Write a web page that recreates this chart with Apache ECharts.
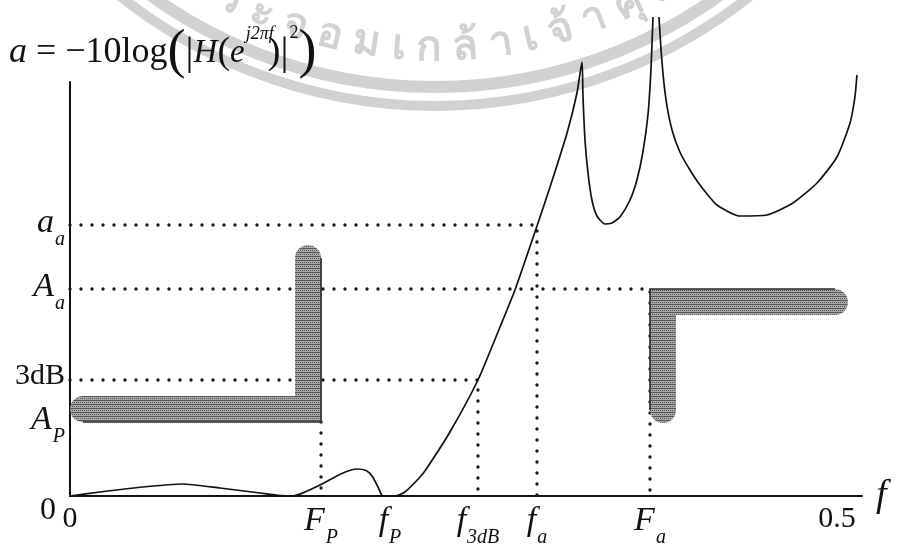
<!DOCTYPE html>
<html>
<head>
<meta charset="utf-8">
<script src="https://cdn.jsdelivr.net/npm/echarts@6/dist/echarts.min.js"></script>
<style>
  html, body { margin: 0; padding: 0; background: #ffffff; }
  #chart { width: 899px; height: 553px; }
</style>
</head>
<body>
<div id="chart"></div>
<script>
// ---- Specification points (normalised frequency f, attenuation a) ----
const F_P = 0.1595, f_P = 0.2033, f_3dB = 0.2592, f_a = 0.2967, F_a = 0.3685, F_HALF = 0.5, F_END = 0.5032;
const a_P = 1.5, A_P = 7.4, A_3dB = 11.6, A_a = 20.7, a_a = 27.1, A_TOP = 41.4;

// Axis ticks and their labels
const fTicks = [0, F_P, f_P, f_3dB, f_a, F_a, F_HALF];
const fTickLabels = ['{n|0}', '{M|F}{s|P}', '{M|f}{s|P}', '{M|f}{s|3dB}', '{M|f}{s|a}', '{M|F}{s|a}', '{nr|0.5}'];
const aTicks = [0, a_P, A_P, A_3dB, A_a, a_a];
const aTickLabels = ['{z|0}', '{M|a}{s|P}', '{M|A}{s|P}', '{n|3dB}', '{M|A}{s|a}', '{M|a}{s|a}'];

// Attenuation of the designed filter (null = infinite attenuation, transmission zero)
const curveF = [0, 0.0191, 0.0464, 0.0712, 0.0953, 0.1207, 0.1334, 0.1417, 0.1493, 0.1601,
  0.1734, 0.1823, 0.1881, 0.1919, 0.1957, 0.1982, 0.2001, 0.2065, 0.2128, 0.2224,
  0.2268, 0.2414, 0.2592, 0.2732, 0.2827, 0.2967, 0.3050, 0.3158, 0.3221, 0.3253,
  0.3259, 0.3272, 0.3291, 0.3316, 0.3348, 0.3399, 0.3443, 0.3494, 0.3558, 0.3602,
  0.3640, 0.3672, 0.3691, 0.3704, 0.3723, 0.3742, 0.3761, 0.3787, 0.3825, 0.3875,
  0.3939, 0.4003, 0.4111, 0.4257, 0.4428, 0.4593, 0.4746, 0.4873, 0.4956, 0.4987, 0.5000];
const curveA = [0, 0.4, 0.9, 1.2, 0.8, 0.3, 0.05, 0, 0.4, 1.2,
  2.3, 2.7, 2.55, 2.0, 0.9, 0.05, 0, 0, 0.4, 1.9,
  2.8, 6.4, 11.6, 16.9, 20.6, 27.0, 30.9, 36.3, 40.3, 43.4,
  40.1, 35.6, 32.3, 29.6, 28.0, 27.2, 27.3, 27.9, 29.6, 31.6,
  34.4, 38.1, 42.6, 47.9, null, 47.9, 43.4, 39.6, 36.6, 34.4,
  32.6, 31.1, 29.1, 28.0, 28.1, 29.3, 31.3, 33.9, 37.3, 39.9, 42.1];

// Tolerance masks: pass band (max attenuation) and stop band (min attenuation)
const passMaskF = [0, F_P, F_P];
const passMaskA = [A_P, A_P, 25.1];
const stopMaskF = [F_a, F_a, 0.4943];
const stopMaskA = [7.3, A_a, A_a];

// Dotted construction lines
const guideF = [[0, f_a, f_a], [0, F_a, F_a], [0, f_3dB, f_3dB], [F_P, F_P]];
const guideA = [[a_a, a_a, 0], [A_a, A_a, 0], [A_3dB, A_3dB, 0], [A_P, 0]];

const SERIF = '"Liberation Serif", "Times New Roman", serif';
const INK = '#111111';
const BAND = 26;

// Screen-tone texture for the tolerance masks
function screenTone() {
  const c = document.createElement('canvas');
  c.width = 4; c.height = 4;
  const g = c.getContext('2d');
  g.fillStyle = '#a9a9a9';
  g.fillRect(0, 0, 4, 4);
  g.fillStyle = '#555555';
  g.fillRect(0, 0, 4, 1);
  g.fillRect(0, 2, 1, 1);
  g.fillRect(2, 2, 1, 1);
  return { image: c, repeat: 'repeat' };
}
const MASK_FILL = screenTone();

const rich = {
  M: { fontFamily: SERIF, fontStyle: 'italic', fontSize: 34, lineHeight: 38, verticalAlign: 'top', color: INK },
  s: { fontFamily: SERIF, fontStyle: 'italic', fontSize: 20, lineHeight: 14, padding: [24, 0, 0, 1], verticalAlign: 'top', color: INK },
  n: { fontFamily: SERIF, fontSize: 30, lineHeight: 38, verticalAlign: 'top', color: INK },
  nr: { fontFamily: SERIF, fontSize: 30, lineHeight: 38, verticalAlign: 'top', padding: [0, 40, 0, 0], color: INK },
  z: { fontFamily: SERIF, fontSize: 32, lineHeight: 38, verticalAlign: 'top', padding: [18, 9, 0, 0], color: INK }
};

function pickLabel(ticks, labels) {
  return function (value) {
    let best = 0;
    for (let i = 1; i < ticks.length; i++) {
      if (Math.abs(ticks[i] - value) < Math.abs(ticks[best] - value)) best = i;
    }
    return labels[best];
  };
}

function maskRenderer(fs, as, inward) {
  return function (params, api) {
    const P = fs.map((f, i) => api.coord([f, as[i]]));
    const h = BAND / 2;
    const c = [inward[0] * h, inward[1] * h];
    const unit = (a, b) => { const dx = b[0] - a[0], dy = b[1] - a[1]; const L = Math.hypot(dx, dy) || 1; return [dx / L, dy / L]; };
    const perp = (u) => { const d = c[0] * u[0] + c[1] * u[1]; return [c[0] - d * u[0], c[1] - d * u[1]]; };
    const u = unit(P[0], P[1]), v = unit(P[1], P[2]);
    const pu = perp(u), pv = perp(v);
    const eStart = [P[0][0] + u[0] * h, P[0][1] + u[1] * h];
    const eEnd = [P[2][0] - v[0] * h, P[2][1] - v[1] * h];
    const start = [eStart[0] + pu[0], eStart[1] + pu[1]];
    const mid = [P[1][0] + c[0], P[1][1] + c[1]];
    const end = [eEnd[0] + pv[0], eEnd[1] + pv[1]];
    return {
      type: 'group',
      children: [
        { type: 'polyline', shape: { points: [start, mid, end] },
          style: { stroke: MASK_FILL, lineWidth: BAND, lineCap: 'round', lineJoin: 'miter', fill: null } },
        { type: 'polyline', shape: { points: [eStart, P[1], eEnd] },
          style: { stroke: '#2a2a2a', lineWidth: 1.6, fill: null } }
      ]
    };
  };
}

// Institutional stamp watermark along a circular arc
function stampGraphics() {
  const cx = 435, cy = -400, rText = 448;
  const text = 'สถาบันเทคโนโลยีพระจอมเกล้าเจ้าคุณทหารลาดกระบัง';
  const font = 'bold 42px "Noto Sans", "DejaVu Sans", sans-serif';
  const tracking = 11;
  let clusters;
  if (typeof Intl !== 'undefined' && Intl.Segmenter) {
    clusters = Array.from(new Intl.Segmenter('th', { granularity: 'grapheme' }).segment(text), s => s.segment);
  } else {
    clusters = Array.from(text);
  }
  const ctx = document.createElement('canvas').getContext('2d');
  ctx.font = font;
  const widths = clusters.map(ch => ctx.measureText(ch).width + tracking);
  const anchor = text.indexOf('จอม') + 1;
  let anchorIdx = 0, acc = 0;
  for (let i = 0; i < clusters.length; i++) { if (acc === anchor) { anchorIdx = i; break; } acc += clusters[i].length; }
  const theta0 = Math.acos((330 - cx) / rText);
  const angles = new Array(clusters.length);
  angles[anchorIdx] = theta0;
  for (let i = anchorIdx + 1; i < clusters.length; i++) angles[i] = angles[i - 1] - (widths[i - 1] / 2 + widths[i] / 2) / rText;
  for (let i = anchorIdx - 1; i >= 0; i--) angles[i] = angles[i + 1] + (widths[i + 1] / 2 + widths[i] / 2) / rText;
  const tone = 'rgba(120,120,120,0.34)';
  const els = [
    { type: 'circle', silent: true, z: -10, shape: { cx: cx, cy: cy, r: 487 }, style: { fill: 'none', stroke: tone, lineWidth: 12 } },
    { type: 'circle', silent: true, z: -10, shape: { cx: cx, cy: cy, r: 506 }, style: { fill: 'none', stroke: tone, lineWidth: 10 } }
  ];
  clusters.forEach((ch, i) => {
    const t = angles[i];
    els.push({
      type: 'text', silent: true, z: -10,
      x: cx + rText * Math.cos(t), y: cy + rText * Math.sin(t),
      rotation: Math.PI / 2 - t,
      style: { text: ch, font: font, fill: tone, align: 'center', verticalAlign: 'middle' }
    });
  });
  return els;
}

const chart = echarts.init(document.getElementById('chart'), null, { renderer: 'canvas' });

const series = [];
guideF.forEach((fs, k) => {
  series.push({
    type: 'line', silent: true, symbol: 'none', z: 2, clip: false,
    data: fs.map((f, i) => [f, guideA[k][i]]),
    lineStyle: { color: '#1a1a1a', width: 3.4, type: [0, 11], cap: 'round' }
  });
});
series.push({ type: 'custom', z: 3, silent: true, data: [0], renderItem: maskRenderer(passMaskF, passMaskA, [-1, -1]) });
series.push({ type: 'custom', z: 3, silent: true, data: [0], renderItem: maskRenderer(stopMaskF, stopMaskA, [1, 1]) });
series.push({
  type: 'line', z: 4, clip: false, symbol: 'none', smooth: 0.2, connectNulls: false,
  data: curveF.map((f, i) => [f, curveA[i] === null ? '-' : curveA[i]]),
  lineStyle: { color: INK, width: 1.7 }
});

const formulaStyle = (extra) => Object.assign({ fontFamily: SERIF, fontWeight: 'normal', fontSize: 36, color: INK, verticalAlign: 'middle' }, extra);

chart.setOption({
  animation: false,
  backgroundColor: '#ffffff',
  title: {
    left: 4, top: 15,
    text: '{ai|a}{t| = −10log}{bp|(}{bar||}{hi|H}{p|(}{ei|e}{sup|j2πf}{pc|)}{bar||}{sup2|2}{bp|)}',
    textStyle: {
      fontWeight: 'normal',
      rich: {
        ai: formulaStyle({ fontStyle: 'italic' }),
        t: formulaStyle({}),
        bp: formulaStyle({ fontSize: 54, lineHeight: 66 }),
        bar: formulaStyle({ fontSize: 40 }),
        hi: formulaStyle({ fontStyle: 'italic', fontSize: 33 }),
        p: formulaStyle({ fontSize: 38 }),
        pc: formulaStyle({ fontSize: 38, padding: [0, 0, 0, -6] }),
        ei: formulaStyle({ fontStyle: 'italic', fontSize: 33 }),
        sup: formulaStyle({ fontStyle: 'italic', fontSize: 18, lineHeight: 18, padding: [0, 0, 38, 1] }),
        sup2: formulaStyle({ fontSize: 18, lineHeight: 18, padding: [0, 0, 40, 1] })
      }
    }
  },
  graphic: { elements: stampGraphics() },
  grid: { left: 70, right: 37, top: 82, bottom: 57, containLabel: false, outerBoundsMode: 'none' },
  xAxis: {
    type: 'value', min: 0, max: F_END,
    axisLine: { show: true, onZero: false, lineStyle: { color: INK, width: 2 } },
    axisTick: { show: false },
    splitLine: { show: false },
    axisLabel: { customValues: fTicks, formatter: pickLabel(fTicks, fTickLabels), rich: rich, margin: 8, showMinLabel: true, showMaxLabel: true },
    name: 'f', nameLocation: 'end', nameGap: 14, nameMoveOverlap: false,
    nameTextStyle: { fontFamily: SERIF, fontStyle: 'italic', fontSize: 38, color: INK, padding: [0, 0, 14, 0], verticalAlign: 'middle' }
  },
  yAxis: {
    type: 'value', min: 0, max: A_TOP,
    axisLine: { show: true, onZero: false, lineStyle: { color: INK, width: 2 } },
    axisTick: { show: false },
    splitLine: { show: false },
    axisLabel: { customValues: aTicks, formatter: pickLabel(aTicks, aTickLabels), rich: rich, margin: 5, showMinLabel: true, showMaxLabel: true }
  },
  series: series
});
</script>
</body>
</html>
